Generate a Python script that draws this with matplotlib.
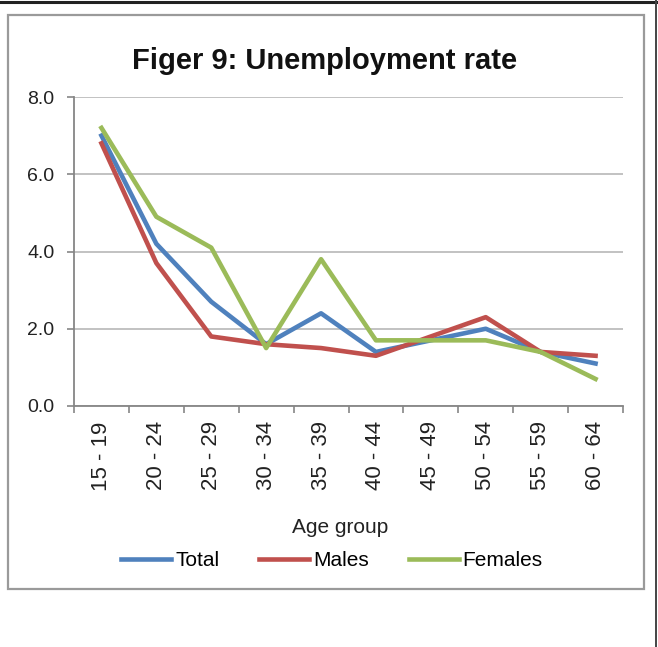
import matplotlib
matplotlib.use("Agg")
import matplotlib.pyplot as plt
from matplotlib.patches import Rectangle
from matplotlib.lines import Line2D

categories = ["15 - 19", "20 - 24", "25 - 29", "30 - 34", "35 - 39",
              "40 - 44", "45 - 49", "50 - 54", "55 - 59", "60 - 64"]
total = [7.0, 4.2, 2.7, 1.6, 2.4, 1.4, 1.7, 2.0, 1.4, 1.1]
males = [6.8, 3.7, 1.8, 1.6, 1.5, 1.3, 1.8, 2.3, 1.4, 1.3]
females = [7.2, 4.9, 4.1, 1.5, 3.8, 1.7, 1.7, 1.7, 1.4, 0.7]
yticks = [0.0, 2.0, 4.0, 6.0, 8.0]

plt.rcParams['font.family'] = ['Liberation Sans', 'DejaVu Sans']

W, H = 658, 647
fig = plt.figure(figsize=(W / 100, H / 100), dpi=100)

def fx(px):
    return px / W

def fy(py):
    return 1 - py / H

# frames
fig.add_artist(Rectangle((fx(8), fy(589)), fx(644) - fx(8), fy(15) - fy(589),
                         transform=fig.transFigure, fill=False,
                         edgecolor="#9a9a9a", linewidth=1.6))
fig.add_artist(Line2D([0, 1], [fy(1.5), fy(1.5)], transform=fig.transFigure,
                      color="#222222", linewidth=2.2))
fig.add_artist(Line2D([fx(656), fx(656)], [0, 1], transform=fig.transFigure,
                      color="#444444", linewidth=1.4))

ax = fig.add_axes([fx(74), fy(406), fx(623) - fx(74), fy(97) - fy(406)])
x = list(range(len(categories)))
ax.plot(x, total, color="#4F81BD", linewidth=3.3, solid_joinstyle="round", label="Total")
ax.plot(x, males, color="#C0504D", linewidth=3.3, solid_joinstyle="round", label="Males")
ax.plot(x, females, color="#9BBB59", linewidth=3.3, solid_joinstyle="round", label="Females")

ax.set_xlim(-0.5, len(categories) - 0.5)
ax.set_ylim(0, 8)
ax.set_yticks(yticks)
ax.set_yticklabels([f"{v:.1f}" for v in yticks], fontsize=14, color="#222222")
ax.set_xticks(x)
ax.set_xticklabels(categories, rotation=90, fontsize=16, color="#222222")
ax.set_xticks([i - 0.5 for i in range(len(categories) + 1)], minor=True)
ax.tick_params(axis="x", which="major", length=0, pad=11)
ax.tick_params(axis="x", which="minor", length=5, width=1.2, color="#868686", direction="out")
ax.tick_params(axis="y", length=5, width=1.2, color="#868686", pad=9)

ax.grid(axis="y", color="#bdbdbd", linewidth=1.3)
ax.set_axisbelow(True)
for s in ["top", "right"]:
    ax.spines[s].set_visible(False)
for s in ["left", "bottom"]:
    ax.spines[s].set_color("#868686")
    ax.spines[s].set_linewidth(1.3)

fig.text(fx(325), fy(69), "Figer 9: Unemployment rate", ha="center", va="baseline",
         fontsize=21, fontweight="bold", color="#111111")
fig.text(fx(340), fy(533), "Age group", ha="center", va="baseline", fontsize=15, color="#222222")

handles, labels = ax.get_legend_handles_labels()
fig.legend(handles, labels, loc="center", bbox_to_anchor=(fx(332), fy(561)),
           ncol=3, frameon=False, fontsize=15, handlelength=2.4, handletextpad=0.2,
           columnspacing=1.9, borderpad=0)

fig.savefig("out.png", dpi=100)
